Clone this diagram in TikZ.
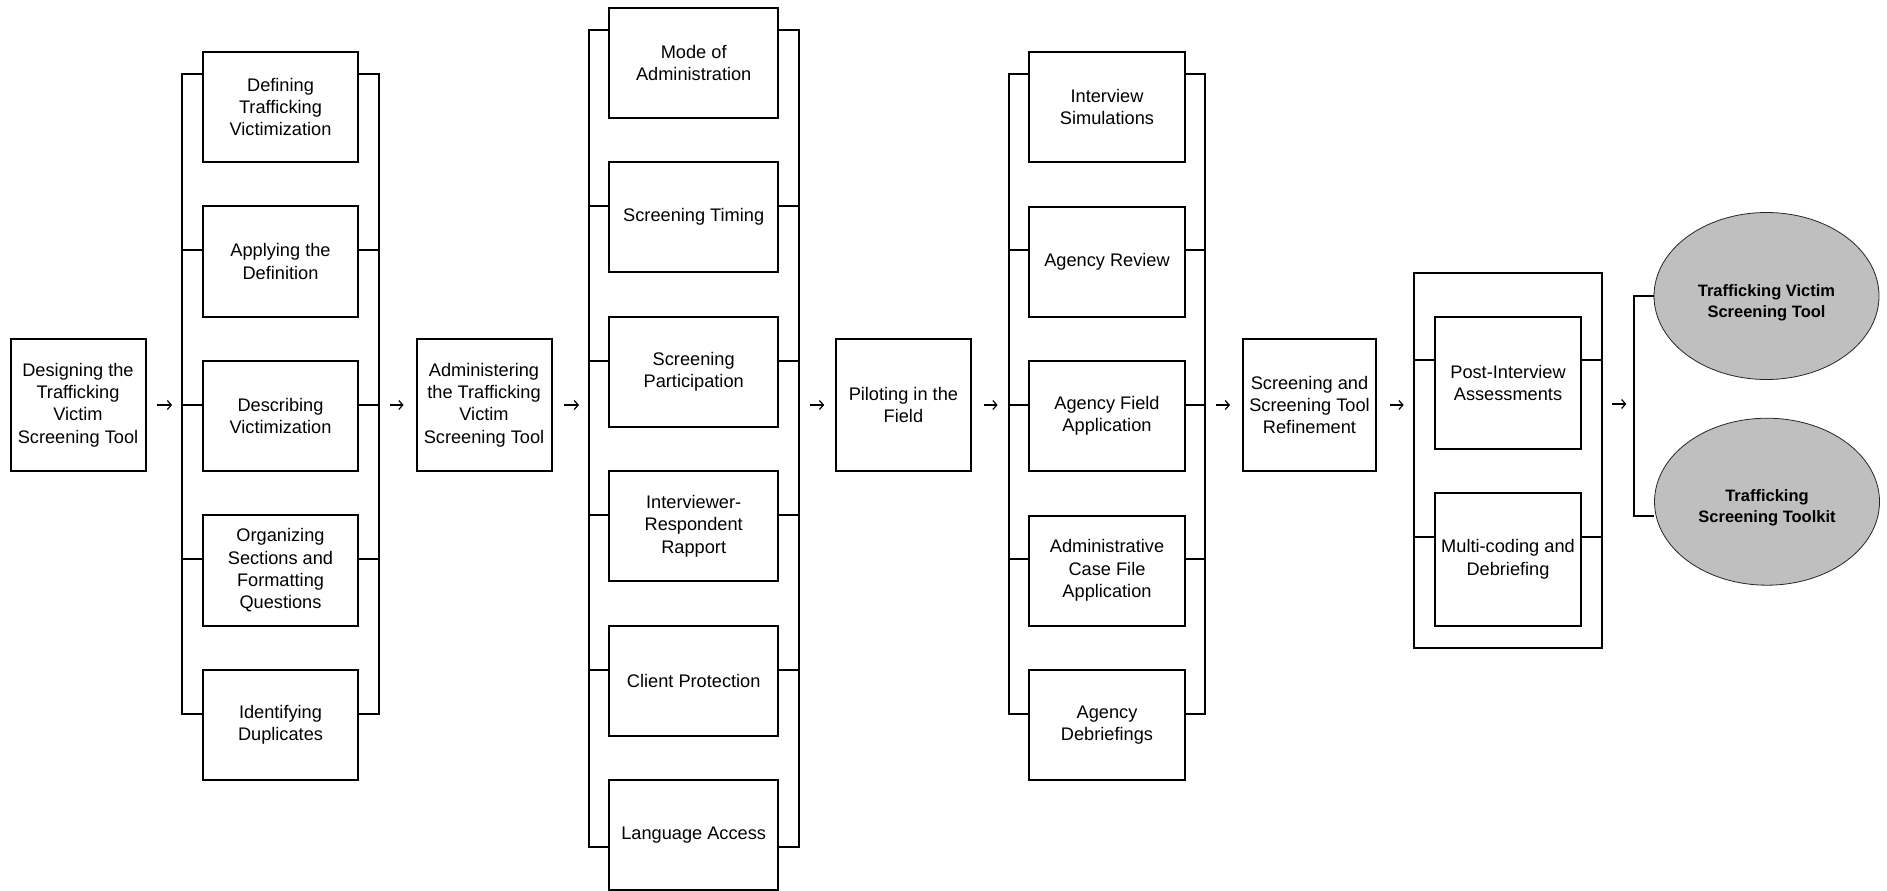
\documentclass[tikz,border=0pt]{standalone}
\usepackage{fontspec}
\setmainfont{Liberation Sans}
\usetikzlibrary{arrows.meta,shapes.geometric}
\begin{document}
\begin{tikzpicture}[x=1pt,y=-1pt,
  ln/.style={line width=2pt},
  bx/.style={draw,line width=2pt,align=center,inner sep=0pt,
    font=\fontsize{18.2}{22.3}\selectfont},
  mainbox/.style={bx,minimum width=135pt,minimum height=131.5pt},
  colA/.style={bx,minimum width=155pt,minimum height=110.5pt},
  colB/.style={bx,minimum width=169.3pt,minimum height=110pt},
  colC/.style={bx,minimum width=156pt,minimum height=110pt},
  colD/.style={bx,minimum width=146.3pt,minimum height=132.5pt},
  outcome/.style={ellipse,draw=black!85,line width=0.8pt,fill=black!25,
    minimum width=225pt,minimum height=167pt,inner sep=0pt},
  outtext/.style={align=center,inner sep=0pt,
    font=\fontsize{16.5}{21}\selectfont\bfseries},
  arr/.style={line width=1.2pt,-{Straight Barb[length=4pt,width=9pt]}}
]
\useasboundingbox (0,0) rectangle (1887,891);

% main stages
\node[mainbox] (d0) at (78,405) {Designing the\\Trafficking\\Victim\\Screening Tool};
\node[mainbox] (d1) at (484,405) {Administering\\the Trafficking\\Victim\\Screening Tool};
\node[mainbox] (d2) at (903.4,405) {Piloting in the\\Field};
\node[mainbox,minimum width=133pt] (d3) at (1309.5,405) {Screening and\\Screening Tool\\Refinement};

% column 1
\node[colA] (c1a) at (280.5,107) {Defining\\Trafficking\\Victimization};
\node[colA] (c1b) at (280.5,261.5) {Applying the\\Definition};
\node[colA] (c1c) at (280.5,416) {Describing\\Victimization};
\node[colA] (c1d) at (280.5,570.5) {Organizing\\Sections and\\Formatting\\Questions};
\node[colA] (c1e) at (280.5,725) {Identifying\\Duplicates};

% column 2
\node[colB] (c2a) at (693.7,62.7) {Mode of\\Administration};
\node[colB] (c2b) at (693.7,217.2) {Screening Timing};
\node[colB] (c2c) at (693.7,371.7) {Screening\\Participation};
\node[colB] (c2d) at (693.7,526.2) {Interviewer-\\Respondent\\Rapport};
\node[colB] (c2e) at (693.7,680.7) {Client Protection};
\node[colB] (c2f) at (693.7,835.2) {Language Access};

% column 3
\node[colC] (c3a) at (1107,107) {Interview\\Simulations};
\node[colC] (c3b) at (1107,261.5) {Agency Review};
\node[colC] (c3c) at (1107,416) {Agency Field\\Application};
\node[colC] (c3d) at (1107,570.5) {Administrative\\Case File\\Application};
\node[colC] (c3e) at (1107,725) {Agency\\Debriefings};

% column 4
\node[draw,line width=2pt,minimum width=188.3pt,minimum height=374.7pt,inner sep=0pt] (c4) at (1507.9,460.4) {};
\node[colD] (c4a) at (1508,383) {Post-Interview\\Assessments};
\node[colD] (c4b) at (1508,559.3) {Multi-coding and\\Debriefing};

% outcomes
\node[outcome] (e1) at (1766.5,296) {};
\node[outtext] (e1t) at ([yshift=-7pt]e1.center) {Trafficking Victim\\Screening Tool};
\node[outcome] (e2) at (1767,501.7) {};
\node[outtext] (e2t) at ([yshift=-6pt]e2.center) {Trafficking\\Screening Toolkit};

% brackets column 1
\draw[ln] ([yshift=33.3pt]c1a.west) -- (182,73.7) -- (182,714) -- ([yshift=11pt]c1e.west);
\draw[ln] ([yshift=33.3pt]c1a.east) -- (379,73.7) -- (379,714) -- ([yshift=11pt]c1e.east);
\foreach \n in {c1b,c1c,c1d}{
  \draw[ln] ([yshift=11.3pt]\n.west) -- ++(-21,0);
  \draw[ln] ([yshift=11.3pt]\n.east) -- ++(21,0);
}
% brackets column 2
\draw[ln] ([yshift=32.7pt]c2a.west) -- (589,30) -- (589,846.7) -- ([yshift=-11.5pt]c2f.west);
\draw[ln] ([yshift=32.7pt]c2a.east) -- (798.7,30) -- (798.7,846.7) -- ([yshift=-11.5pt]c2f.east);
\foreach \n in {c2b,c2c,c2d,c2e}{
  \draw[ln] ([yshift=11pt]\n.west) -- ++(-20,0);
  \draw[ln] ([yshift=11pt]\n.east) -- ++(20.4,0);
}
% brackets column 3
\draw[ln] ([yshift=33.3pt]c3a.west) -- (1009,73.7) -- (1009,714) -- ([yshift=11pt]c3e.west);
\draw[ln] ([yshift=33.3pt]c3a.east) -- (1204.7,73.7) -- (1204.7,714) -- ([yshift=11pt]c3e.east);
\foreach \n in {c3b,c3c,c3d}{
  \draw[ln] ([yshift=11.3pt]\n.west) -- ++(-20,0);
  \draw[ln] ([yshift=11.3pt]\n.east) -- ++(19.7,0);
}
% column 4 ticks
\foreach \n/\d in {c4a/22.7,c4b/22}{
  \draw[ln] ([yshift=\d pt]\n.west) -- ([yshift=\d pt]\n.west -| c4.west);
  \draw[ln] ([yshift=\d pt]\n.east) -- ([yshift=\d pt]\n.east -| c4.east);
}
% outcome bracket
\draw[ln] (e1.west) -- (1633.7,296) -- (1633.7,515.7) -- ([yshift=-14pt]e2.west);

% arrows
\draw[arr] ([xshift=10.6pt]d0.east) -- ([xshift=25.6pt]d0.east);
\draw[arr] ([xshift=-25.4pt]d1.west) -- ([xshift=-11.9pt]d1.west);
\draw[arr] ([xshift=11.5pt]d1.east) -- ([xshift=26.5pt]d1.east);
\draw[arr] ([xshift=-25pt]d2.west) -- ([xshift=-10.7pt]d2.west);
\draw[arr] ([xshift=11.7pt]d2.east) -- ([xshift=25.7pt]d2.east);
\draw[arr] ([xshift=-26pt]d3.west) -- ([xshift=-12pt]d3.west);
\draw[arr] ([xshift=13pt]d3.east) -- ([xshift=26.7pt]d3.east);
\draw[arr] ([xshift=9pt,yshift=56.4pt]c4.east) -- ([xshift=23.3pt,yshift=56.4pt]c4.east);
\end{tikzpicture}
\end{document}
